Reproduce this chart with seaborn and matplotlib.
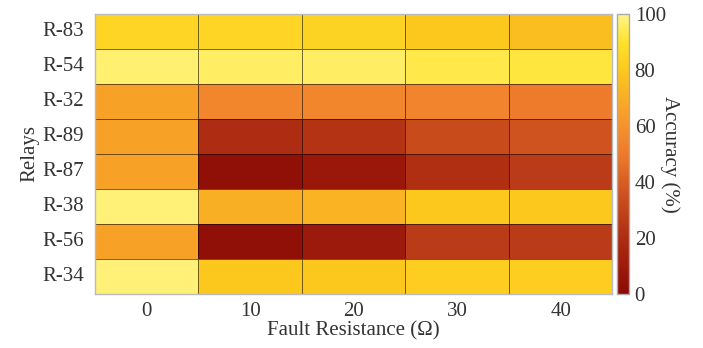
import numpy as np
import pandas as pd
import seaborn as sns
import matplotlib.pyplot as plt
from matplotlib.colors import LinearSegmentedColormap

# Accuracy (%) per relay and fault resistance
relays = ['R-83', 'R-54', 'R-32', 'R-89', 'R-87', 'R-38', 'R-56', 'R-34']
resistances = [0, 10, 20, 30, 40]

r83 = [85, 85, 84, 80, 76]
r54 = [97, 96, 96, 93, 92]
r32 = [66, 55, 55, 54, 50]
r89 = [66, 20, 23, 33, 36]
r87 = [66, 3, 8, 21, 26]
r38 = [98, 70, 72, 80, 80]
r56 = [66, 3, 9, 26, 26]
r34 = [98, 80, 80, 82, 82]

data = pd.DataFrame([r83, r54, r32, r89, r87, r38, r56, r34],
                    index=relays, columns=resistances)

# dark red -> orange -> yellow -> pale yellow
cmap = LinearSegmentedColormap.from_list('acc', [
    (0.0, '#8B0A05'),
    (0.2, '#AE2D12'),
    (0.35, '#CC501E'),
    (0.5, '#EE7A2C'),
    (0.6, '#F5922C'),
    (0.7, '#F9AE24'),
    (0.8, '#FCC81E'),
    (0.9, '#FFE22A'),
    (1.0, '#FFF58A'),
])

sns.set_style('white')
plt.rcParams['font.family'] = ['Liberation Serif', 'DejaVu Serif']
plt.rcParams['text.color'] = '#333333'
plt.rcParams['axes.labelcolor'] = '#333333'
plt.rcParams['xtick.color'] = '#333333'
plt.rcParams['ytick.color'] = '#333333'

fs = 15

fig = plt.figure(figsize=(7.03, 3.48), dpi=100)
ax = fig.add_axes([0.135, 0.155, 0.736, 0.805])
cax = fig.add_axes([0.878, 0.155, 0.017, 0.805])

sns.heatmap(data, ax=ax, cbar_ax=cax, cmap=cmap, vmin=0, vmax=100,
            linewidths=0.6, linecolor=(0, 0, 0, 0.55),
            cbar_kws={'ticks': [0, 20, 40, 60, 80, 100]})

for side in ['top', 'bottom', 'left', 'right']:
    ax.spines[side].set_visible(True)
    ax.spines[side].set_color('#bbbbbb')
    ax.spines[side].set_linewidth(1.0)

ax.tick_params(length=0, labelsize=fs)
ax.tick_params(axis='x', pad=6)
ax.tick_params(axis='y', pad=8)
ax.set_yticklabels(relays, rotation=0)
ax.set_xticklabels(resistances, rotation=0)
ax.set_xlabel('Fault Resistance (Ω)', fontsize=fs, labelpad=0)
ax.set_ylabel('Relays', fontsize=fs, labelpad=2)

cb = ax.collections[0].colorbar
cb.outline.set_edgecolor('#aaaaaa')
cb.outline.set_linewidth(1.0)
cax.tick_params(labelsize=fs, length=3, direction='in', color='#888888', pad=4)
cb.set_label('Accuracy (%)', fontsize=fs, rotation=270, labelpad=10)

fig.savefig('out.png', dpi=100)
